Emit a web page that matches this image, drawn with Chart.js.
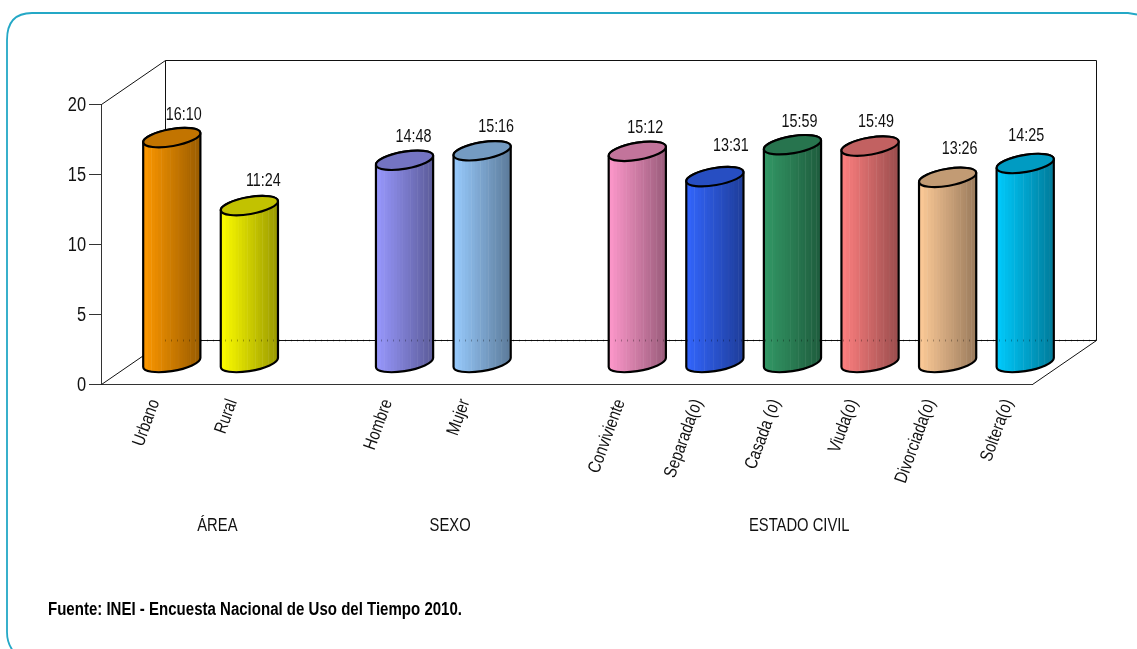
<!DOCTYPE html>
<html>
<head>
<meta charset="utf-8">
<style>
    html, body { margin: 0; padding: 0; background: #fff; overflow: hidden; }
    canvas { display: block; }
</style>
</head>
<body>
<canvas id="myChart" width="1137" height="649"></canvas>
<script src="https://cdn.jsdelivr.net/npm/chart.js@4"></script>
<script>
const categorias = ['Urbano', 'Rural', '', 'Hombre', 'Mujer', '', 'Conviviente', 'Separada(o)', 'Casada (o)', 'Viuda(o)', 'Divorciada(o)', 'Soltera(o)'];
// the source plots hh:mm as if it were hh.mm
const valores = [16.10, 11.24, null, 14.48, 15.16, null, 15.12, 13.31, 15.59, 15.49, 13.26, 14.25];
const etiquetas = ['16:10', '11:24', '', '14:48', '15:16', '', '15:12', '13:31', '15:59', '15:49', '13:26', '14:25'];
const colores = ['#ff9900', '#ffff00', null, '#9999ff', '#99ccff', null, '#ff99cc', '#3366ff', '#339966', '#ff8080', '#ffcc99', '#00ccff'];
const yTicks = [0, 5, 10, 15, 20];
const grupos = ['ÁREA', 'SEXO', 'ESTADO CIVIL'];
const grupoCentro = [1, 4, 8.5];
const fuente = 'Fuente: INEI - Encuesta Nacional de Uso del Tiempo 2010.';

const FONT = '"Liberation Sans", Arial, sans-serif';
const SQUEEZE = 0.82;   // reference text is horizontally condensed
const DEPTH_X = 64, DEPTH_Y = 44;
const BAR_SHIFT_X = 32, BAR_SHIFT_Y = 21;
// label nudge from the top of each cylinder
const nudge = [[12, -22], [14, -24], [0, 0], [9, -23], [14, -24], [0, 0], [8, -23], [16, -30], [7, -23], [6, -24], [12, -28], [1, -27]];

function shade(hex, k) {
    const n = parseInt(hex.slice(1), 16);
    const r = Math.round(((n >> 16) & 255) * k);
    const g = Math.round(((n >> 8) & 255) * k);
    const b = Math.round((n & 255) * k);
    return 'rgb(' + r + ',' + g + ',' + b + ')';
}

function squeezedText(ctx, text, x, y, angle, sx) {
    ctx.save();
    ctx.translate(x, y);
    ctx.rotate(angle || 0);
    ctx.scale(sx || SQUEEZE, 1);
    ctx.fillText(text, 0, 0);
    ctx.restore();
}

function drawCylinder(ctx, el) {
    const cx = el.x + BAR_SHIFT_X;
    const topY = el.y - BAR_SHIFT_Y;
    const botY = el.base - BAR_SHIFT_Y;
    const rx = el.width / 2, ry = 8.5, rot = -0.17;
    const color = el.options.backgroundColor;
    const t0 = Math.atan2(-ry * Math.sin(rot), rx * Math.cos(rot));

    const body = new Path2D();
    body.ellipse(cx, botY, rx, ry, rot, t0, t0 + Math.PI);
    body.ellipse(cx, topY, rx, ry, rot, t0 + Math.PI, t0 + 2 * Math.PI);
    body.closePath();

    ctx.save();
    ctx.clip(body);
    const left = cx - rx - 2, w = el.width + 4;
    const n = 30;
    for (let i = 0; i < n; i++) {
        const a = 1 - Math.pow(1 - i / n, 1.8);
        const b = 1 - Math.pow(1 - (i + 1) / n, 1.8);
        ctx.fillStyle = shade(color, 1 - 0.42 * a);
        ctx.fillRect(left + a * w, topY - 20, (b - a) * w + 1, botY - topY + 40);
        if (i % 3 === 2) {
            ctx.fillStyle = 'rgba(255,255,255,0.3)';
            ctx.fillRect(left + b * w, topY - 20, 1, botY - topY + 40);
        }
    }
    ctx.restore();

    ctx.strokeStyle = '#000';
    ctx.lineWidth = 2.2;
    ctx.stroke(body);

    ctx.beginPath();
    ctx.ellipse(cx, topY, rx, ry, rot, 0, 2 * Math.PI);
    ctx.fillStyle = shade(color, 0.76);
    ctx.fill();
    ctx.stroke();
}

const cylinders = {
    id: 'cylinders',
    beforeDraw(chart) {
        const ctx = chart.ctx;
        // rounded frame, runs off the right and bottom edges
        ctx.save();
        ctx.strokeStyle = '#24a8c6';
        ctx.lineWidth = 1.8;
        ctx.beginPath();
        ctx.moveTo(14, 652);
        ctx.quadraticCurveTo(7, 644, 7, 632);
        ctx.lineTo(7, 40);
        ctx.quadraticCurveTo(7, 13, 32, 13);
        ctx.lineTo(1128, 13);
        ctx.lineTo(1137, 14.5);
        ctx.stroke();
        ctx.restore();
    },
    beforeDatasetsDraw(chart) {
        const ctx = chart.ctx;
        const a = chart.chartArea;
        const l = a.left + 0.5, r = a.right + 0.5, t = a.top + 0.5, b = a.bottom + 0.5;
        ctx.save();
        ctx.strokeStyle = '#111';
        ctx.lineWidth = 1;
        ctx.beginPath();
        ctx.moveTo(l, t);
        ctx.lineTo(l + DEPTH_X, t - DEPTH_Y);
        ctx.lineTo(r + DEPTH_X, t - DEPTH_Y);
        ctx.lineTo(r + DEPTH_X, b - DEPTH_Y);
        ctx.lineTo(l + DEPTH_X, b - DEPTH_Y);
        ctx.moveTo(l + DEPTH_X, t - DEPTH_Y);
        ctx.lineTo(l + DEPTH_X, b - DEPTH_Y);
        ctx.moveTo(l, b);
        ctx.lineTo(l + DEPTH_X, b - DEPTH_Y);
        ctx.moveTo(r, b);
        ctx.lineTo(r + DEPTH_X, b - DEPTH_Y);
        ctx.stroke();
        ctx.restore();
    },
    beforeDatasetDraw(chart, args) {
        const ctx = chart.ctx;
        args.meta.data.forEach(function (el, i) {
            if (valores[i] !== null) drawCylinder(ctx, el);
        });
        return false;
    },
    afterDatasetsDraw(chart) {
        const ctx = chart.ctx;
        const a = chart.chartArea;
        const xs = chart.scales.x, ys = chart.scales.y;
        ctx.save();

        // back wall edge shows faintly through the cylinders
        ctx.strokeStyle = 'rgba(0,0,0,0.3)';
        ctx.setLineDash([1, 5]);
        ctx.beginPath();
        ctx.moveTo(a.left + DEPTH_X, a.bottom - DEPTH_Y + 0.5);
        ctx.lineTo(a.right + DEPTH_X, a.bottom - DEPTH_Y + 0.5);
        ctx.stroke();
        ctx.setLineDash([]);

        ctx.fillStyle = '#111';
        ctx.textBaseline = 'middle';

        // y tick labels
        ctx.textAlign = 'right';
        ctx.font = '20px ' + FONT;
        ys.ticks.forEach(function (t) {
            squeezedText(ctx, String(t.value), ys.left + 86, ys.getPixelForValue(t.value) + 1);
        });

        // category labels
        ctx.font = '18px ' + FONT;
        xs.ticks.forEach(function (t, i) {
            const label = categorias[t.value];
            if (label) squeezedText(ctx, label, xs.getPixelForTick(i) + 15, a.bottom + 16, -70 * Math.PI / 180);
        });

        ctx.textAlign = 'center';
        grupos.forEach(function (g, i) {
            squeezedText(ctx, g, xs.getPixelForValue(grupoCentro[i]), 526);
        });

        ctx.font = '17.5px ' + FONT;
        chart.getDatasetMeta(0).data.forEach(function (el, i) {
            if (valores[i] === null) return;
            squeezedText(ctx, etiquetas[i], el.x + BAR_SHIFT_X + nudge[i][0], el.y - BAR_SHIFT_Y + nudge[i][1]);
        });

        ctx.textAlign = 'left';
        ctx.fillStyle = '#000';
        ctx.font = 'bold 18px ' + FONT;
        squeezedText(ctx, fuente, 48, 610, 0, 0.835);
        ctx.restore();
    }
};

new Chart(document.getElementById('myChart'), {
    type: 'bar',
    data: {
        labels: categorias,
        datasets: [{
            data: valores,
            backgroundColor: colores,
            categoryPercentage: 1,
            barPercentage: 0.747
        }]
    },
    options: {
        responsive: false,
        animation: false,
        layout: { padding: { left: 0, right: 105, top: 104, bottom: 165 } },
        plugins: { legend: { display: false }, tooltip: { enabled: false } },
        scales: {
            x: {
                grid: { display: false },
                border: { display: true, color: '#333' },
                afterFit: function (s) { s.height = 100; },
                ticks: { autoSkip: false, display: false }
            },
            y: {
                min: 0,
                max: 20,
                afterFit: function (s) { s.width = 101; },
                afterBuildTicks: function (s) { s.ticks = yTicks.map(function (v) { return { value: v }; }); },
                grid: { drawOnChartArea: false, tickLength: 12, color: '#333' },
                border: { display: true, color: '#333' },
                ticks: { display: false }
            }
        }
    },
    plugins: [cylinders]
});
</script>
</body>
</html>
